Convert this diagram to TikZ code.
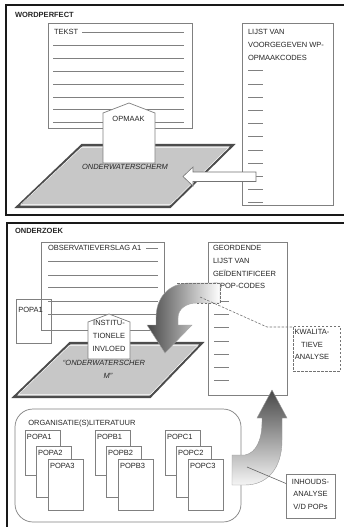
\documentclass[tikz,border=0pt]{standalone}
\usepackage{fontspec}
\setmainfont{Liberation Sans}
\begin{document}
\begin{tikzpicture}[x=1pt,y=-1pt,
  every node/.style={inner sep=0pt, outer sep=0pt, text=black!85, font=\fontsize{7.5}{12.6}\selectfont},
  bold/.style={font=\fontsize{7.5}{9}\selectfont\bfseries},
  ital/.style={font=\fontsize{7.5}{9}\selectfont\itshape},
  box/.style={draw=black!50, line width=0.7pt, fill=white, anchor=north west},
  frame/.style={draw=black!90, line width=1.8pt},
  txt/.style={anchor=north west, align=left},
  ctxt/.style={anchor=north, align=center},
  rule/.style={draw=black!50, line width=0.45pt},
  plane/.style={fill=black!22, draw=black!70, line width=2.2pt, line join=miter},
  innerline/.style={draw=white, line width=0.5pt, line join=miter},
  house/.style={draw=black!50, line width=0.7pt, fill=white, line join=miter},
  callout/.style={draw=black!55, line width=0.6pt, dash pattern=on 2.5pt off 1.5pt},
  pop/.style={box, minimum width=35pt},
]
\useasboundingbox (0,0) rectangle (343,527);
\fill[white] (0,0) rectangle (343,527);

% ---------- frames
\draw[frame] (6,5) rectangle (352,215);
\draw[frame] (7,223) rectangle (352,535);

% ---------- WORDPERFECT
\node[bold, anchor=north west] (wp) at (15,12.3) {WORDPERFECT};

\node[box, minimum width=144pt, minimum height=105pt] (tekst) at (48,23) {};
\node[txt] (tekstlbl) at (54,29.6) {TEKST};
\draw[rule] (82,32.3) -- (184,32.3);
\foreach \i in {1,...,7} \draw[rule] (53,32.3+12.9*\i) -- (184,32.3+12.9*\i);

\node[box, minimum width=91.5pt, minimum height=182pt] (lijst) at (242,23) {};
\node[txt] (lijsttxt) at (248,29.6) {LIJST VAN\\VOORGEGEVEN WP-\\OPMAAKCODES};
\foreach \i in {0,...,10} \draw[rule] (248,70.7+13.2*\i) -- (263,70.7+13.2*\i);

\draw[plane] (82,145) -- (233,145) -- (170,207) -- (17,207) -- cycle;
\draw[innerline] (81.2,147.6) -- (228.6,147.6) -- (170.9,204.4) -- (20.9,204.4) -- cycle;
\node[ital] (ow1) at (125,167) {ONDERWATERSCHERM};

\draw[house] (103,163) -- (103,113) -- (129,103) -- (155,113) -- (155,163) -- cycle;
\node (opmaak) at (128.5,118.5) {OPMAAK};

\draw[black!55, line width=0.6pt, fill=white, line join=miter] (256,172) -- (193,172) -- (193,167) -- (183,176.5) -- (193,186) -- (193,181.5) -- (256,181.5) -- cycle;

% ---------- ONDERZOEK
\node[bold, anchor=north west] (oz) at (15,228.3) {ONDERZOEK};

\node[box, minimum width=123pt, minimum height=88pt] (obs) at (41,242) {};
\node[txt] (obstxt) at (48,245.3) {OBSERVATIEVERSLAG A1};
\draw[rule] (146,248) -- (158,248);
\foreach \y in {261.7,275,287.7,301,314.3} \draw[rule] (48,\y) -- (158,\y);

\node[draw=black!50, line width=0.7pt, anchor=north west, minimum width=35pt, minimum height=44pt] (popa1o) at (16,299) {};
\node[txt] (popa1otxt) at (18.3,307.3) {POPA1};

\draw[plane] (70,343) -- (202,343) -- (150,397) -- (14,397) -- cycle;
\draw[innerline] (69.2,345.6) -- (197.8,345.6) -- (150.6,394.4) -- (18.3,394.4) -- cycle;
\node[ital] (ow2a) at (104,363) {“ONDERWATERSCHER};
\node[ital] (ow2b) at (108,375.5) {M”};

\draw[house] (88,359) -- (88,322) -- (109,314) -- (130,322) -- (130,359) -- cycle;
\node[ctxt] (inst) at (109,320.6) {INSTITU-\\TIONELE\\INVLOED};

\node[box, minimum width=79pt, minimum height=153pt] (geo) at (208,242) {};
\node[txt] (geotxt) at (213,245.6) {GEORDENDE\\LIJST VAN\\GEÏDENTIFICEER\\E POP-CODES};
\foreach \i in {0,...,6} \draw[rule] (214,301+13.28*\i) -- (229,301+13.28*\i);

\path[left color=black!72, right color=white, draw=black!35, line width=0.4pt]
  (220,283) -- (190,283) .. controls (168,283) and (156,298) .. (156,318) -- (156,325)
  -- (147,325) -- (165,353) -- (192,325) -- (178,325) -- (178,318)
  .. controls (178,309) and (186,303) .. (197,303) -- (220,303) -- cycle;
\draw[callout] (177,283) -- (220,283) -- (220,303) -- (197,303);

\coordinate (cs) at (200,297);
\coordinate (bend) at (267,327);
\node[callout, anchor=north west, minimum width=47pt, minimum height=45pt] (kwal) at (293,326) {};
\node[ctxt] (kwaltxt) at (312,329.3) {KWALITA-\\TIEVE\\ANALYSE};
\draw[callout] (cs) -- (bend) -- (kwal.west |- bend);

\node[box, rounded corners=18pt, minimum width=226pt, minimum height=113pt] (org) at (15,409) {};
\node[txt] (orgtxt) at (28.3,420.3) {ORGANISATIE(S)LITERATUUR};

\foreach \n/\x in {A/25,B/95,C/165} {
  \node[pop, minimum height=45pt] (pop\n1) at (\x,430) {};
  \node[txt] (pop\n1t) at (\x+2,434) {POP\n1};
  \node[pop, minimum height=51pt] (pop\n2) at (\x+11,446) {};
  \node[txt] (pop\n2t) at (\x+13,450) {POP\n2};
  \node[pop, minimum height=51pt] (pop\n3) at (\x+23,459.3) {};
  \node[txt] (pop\n3t) at (\x+25,463.5) {POP\n3};
}

\path[top color=black!72, bottom color=black!4, draw=black!40, line width=0.4pt]
  (232,455) -- (245,455) .. controls (256,453) and (262,440) .. (262,422) -- (262,418)
  -- (257,418) -- (272,390) -- (287,418) -- (282,418) -- (282,440)
  .. controls (282,470) and (266,485) .. (245,485) -- (232,485) -- cycle;

\coordinate (c3) at (247,467);
\node[box, minimum width=49pt, minimum height=44pt] (inh) at (286,474) {};
\node[ctxt] (inhtxt) at (310.5,479) {INHOUDS-\\ANALYSE\\V/D POPs};
\draw[black!60, line width=0.6pt] (c3) -- ([yshift=12.5pt]inh.west);

\end{tikzpicture}
\end{document}
